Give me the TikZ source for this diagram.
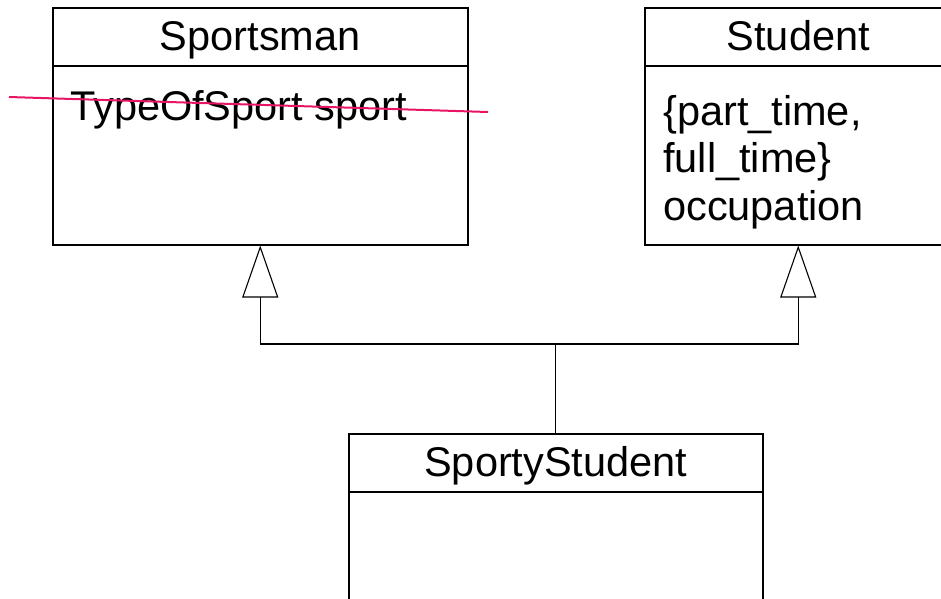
\documentclass[tikz,border=0pt]{standalone}
\usepackage{fontspec}
\setmainfont{Liberation Sans}
\usetikzlibrary{arrows.meta}
\definecolor{strikered}{RGB}{232,20,100}
\begin{document}
\begin{tikzpicture}[x=1pt,y=-1pt,
  classbox/.style={draw, line width=1.5pt, inner sep=0pt, anchor=north west},
  classname/.style={inner sep=0pt, anchor=base, font=\fontsize{41.5}{47}\selectfont},
  member/.style={inner sep=0pt, anchor=base west, font=\fontsize{41.5}{47}\selectfont},
  divider/.style={line width=1.3pt},
  inherit/.style={line width=1.1pt, -{Triangle[open, length=52pt, width=36pt]}},
  strike/.style={strikered, line width=2pt}]
\useasboundingbox (0,0) rectangle (941,598);
\clip (0,0) rectangle (941,598);

% Sportsman
\node[classbox, minimum width=415pt, minimum height=237pt] (sportsman) at (52,7) {};
\node[classname] (sportsmanname) at (sportsman.north |- 0,50) {Sportsman};
\draw[divider] (sportsman.west |- 0,66) -- (sportsman.east |- 0,66);
\node[member] (sport) at (70,120) {TypeOfSport sport};

% Student
\node[classbox, minimum width=307pt, minimum height=237pt] (student) at (644,7) {};
\node[classname] (studentname) at (student.north |- 0,50) {Student};
\draw[divider] (student.west |- 0,66) -- (student.east |- 0,66);
\node[member] (occ1) at (663,125) {\{part\_time,};
\node[member] (occ2) at (663,172) {full\_time\}};
\node[member] (occ3) at (663,220) {occupation};

% SportyStudent
\node[classbox, minimum width=414pt, minimum height=240pt] (sporty) at (348,433) {};
\node[classname] (sportyname) at (sporty.north |- 0,476) {SportyStudent};
\draw[divider] (sporty.west |- 0,492) -- (sporty.east |- 0,492);

% generalisation connectors
\coordinate (join) at (sporty.north |- 0,344);
\draw[inherit] (sporty.north) -- (join) -| (sportsman.south);
\draw[inherit] (join) -| (student.south);

% attribute struck out
\coordinate (strikefrom) at (9,97);
\coordinate (striketo) at (488,112);
\draw[strike] (strikefrom) -- (striketo);
\end{tikzpicture}
\end{document}
